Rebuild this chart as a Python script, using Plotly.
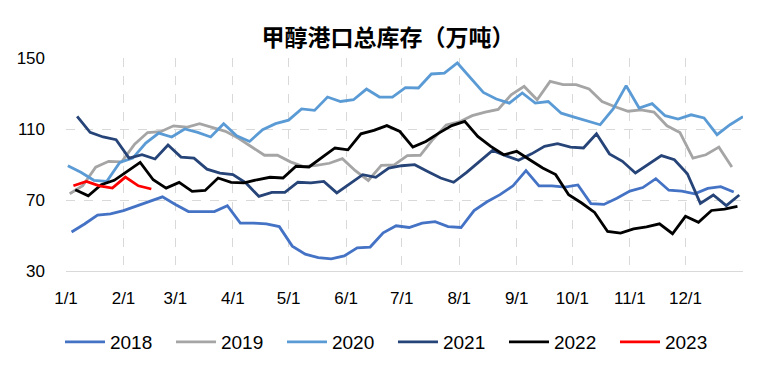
import pandas as pd
import plotly.graph_objects as go

TITLE = "甲醇港口总库存（万吨）"
DISPLAY_YEAR = 2021

# first weekly observation of each year, mapped onto a common display year (month-day)
start_2018 = "01-04"
start_2019 = "01-03"
start_2020 = "01-02"
start_2021 = "01-07"
start_2022 = "01-06"
start_2023 = "01-05"

v2018 = [52, 56.5, 61.5, 62.2, 64, 66.5, 69, 71.8, 67.5, 63.5, 63.5, 63.5, 66.8, 57, 57, 56.5,
         55, 44, 39.5, 37.5, 36.8, 38.5, 43, 43.5, 51.5, 55.5, 54.5, 57, 57.8, 55, 54.5, 64,
         69, 73, 78, 86.5, 78, 78, 77.3, 78.5, 68, 67.5, 71, 75, 77, 82, 75.5, 75, 73.5, 76.5,
         77.5, 74.5]
v2019 = [73.5, 78, 88.5, 91.8, 91.5, 101.5, 108, 108.5, 111.8, 111, 113, 111, 108.7, 104.8, 99.8,
         95.2, 95.2, 91.5, 88.8, 89.5, 90.7, 93.3, 86.5, 81, 89.5, 89.8, 95, 95.2, 104.4, 112.3,
         114, 117.5, 119.5, 121, 129.3, 134, 126.5, 136.8, 135, 135, 132.6, 125.5, 122.5, 120,
         120.8, 119.5, 111.8, 108, 93.6, 95.5, 99.8, 88.6]
v2020 = [89.3, 85.6, 81.1, 80.5, 91.2, 93.6, 102.1, 107.7, 105.5, 110, 108.1, 105.5, 113, 106.2,
         103, 109.6, 113, 115, 121.3, 120.5, 128, 125.5, 126.5, 132.5, 128, 128, 133.3, 133.1,
         141, 141.5, 147.2, 138.7, 130.6, 126.9, 124.6, 130.3, 124.6, 125.5, 118.9, 116.7, 114.7,
         112.4, 121.3, 134.4, 121.8, 124.3, 117.5, 115.6, 118, 116.2, 106.8, 112.4, 117]
v2021 = [117.1, 108.1, 105.5, 104, 93.6, 95.5, 93.1, 101, 94.2, 93.6, 87.4, 85.2, 84.3, 79.6, 72,
         74.3, 74.3, 80, 79.6, 80.5, 74, 79.2, 84.3, 82.8, 88, 89.3, 89.9, 86.1, 82.4, 80, 85.6,
         91.8, 97.9, 95, 92.4, 96, 100.2, 101.7, 99.8, 99.3, 107.3, 96, 91.8, 85.2, 89.9, 95,
         92.7, 84.8, 68.1, 72.8, 66.8, 72.8]
v2022 = [75.8, 72.4, 78.6, 81.1, 86.1, 91.2, 81.4, 76.7, 79.9, 74.9, 75.4, 82.4, 79.9, 79.6, 81.4,
         82.8, 82.4, 89, 88.6, 94.2, 99.3, 98.3, 107.3, 109.2, 111.9, 108.6, 99.8, 103, 107.7,
         111.9, 114.3, 105.8, 100.2, 95.5, 97.4, 92.7, 88, 84.3, 73, 68.3, 63, 52.3, 51.4, 53.7,
         54.8, 56.6, 51, 60.8, 57.4, 64.1, 64.9, 66.4]
v2023 = [78, 80.5, 78, 76.7, 82.9, 78, 76.2]

series_names = ["2018", "2019", "2020", "2021", "2022", "2023"]
series_values = [v2018, v2019, v2020, v2021, v2022, v2023]
series_starts = [start_2018, start_2019, start_2020, start_2021, start_2022, start_2023]
series_colors = ["#4472C4", "#A5A5A5", "#5B9BD5", "#264478", "#000000", "#FF0000"]

month_ticks = [f"{DISPLAY_YEAR}-{m:02d}-01" for m in range(1, 13)] + [f"{DISPLAY_YEAR + 1}-01-01"]
month_labels = [f"{m}/1" for m in range(1, 13)] + [""]
y_ticks = [30, 70, 110, 150]

FONT = "Liberation Sans, Arial, sans-serif"

# the page body has a default 8px margin; size the figure so it fits the 766x374 window
PAGE_OFF = 8
W, H = 766 - PAGE_OFF, 374 - PAGE_OFF

fig = go.Figure()
for name, vals, st, col in zip(series_names, series_values, series_starts, series_colors):
    dates = pd.date_range(start=f"{DISPLAY_YEAR}-{st}", periods=len(vals), freq="7D")
    fig.add_trace(go.Scatter(x=dates, y=vals, mode="lines", name=name,
                             line=dict(color=col, width=2.8)))

fig.update_layout(
    width=W, height=H,
    margin=dict(l=66 - PAGE_OFF, r=23, t=58 - PAGE_OFF, b=103, autoexpand=False),
    paper_bgcolor="white", plot_bgcolor="white",
    title=dict(text=TITLE, x=(388 - PAGE_OFF) / W, xref="container", xanchor="center",
               y=1 - (38 - PAGE_OFF) / H, yref="container", yanchor="middle", automargin=False,
               font=dict(family="Noto Sans CJK SC", size=23, color="#000000", weight="bold")),
    font=dict(family=FONT, size=17, color="#000000"),
    legend=dict(orientation="h", x=0.483, xanchor="center", y=-0.333, yanchor="middle",
                font=dict(family=FONT, size=19), entrywidth=56, entrywidthmode="pixels",
                itemwidth=40, tracegroupgap=0),
    showlegend=True,
)
fig.update_xaxes(
    type="date", range=[f"{DISPLAY_YEAR}-01-01", f"{DISPLAY_YEAR + 1}-01-01"],
    tickmode="array", tickvals=month_ticks, ticktext=month_labels,
    showgrid=True, gridcolor="#D9D9D9", griddash="dash", gridwidth=1,
    showline=True, linecolor="#D9D9D9", linewidth=1,
    ticks="", ticklabelstandoff=12, zeroline=False, automargin=False,
    tickfont=dict(family=FONT, size=17),
)
fig.update_yaxes(
    range=[30, 150], tickmode="array", tickvals=y_ticks,
    showgrid=True, gridcolor="#D9D9D9", griddash="dash", gridwidth=1,
    zeroline=False, showline=False, ticks="", ticklabelstandoff=20, automargin=False,
    tickfont=dict(family=FONT, size=17),
)

fig.write_html("out.html")
